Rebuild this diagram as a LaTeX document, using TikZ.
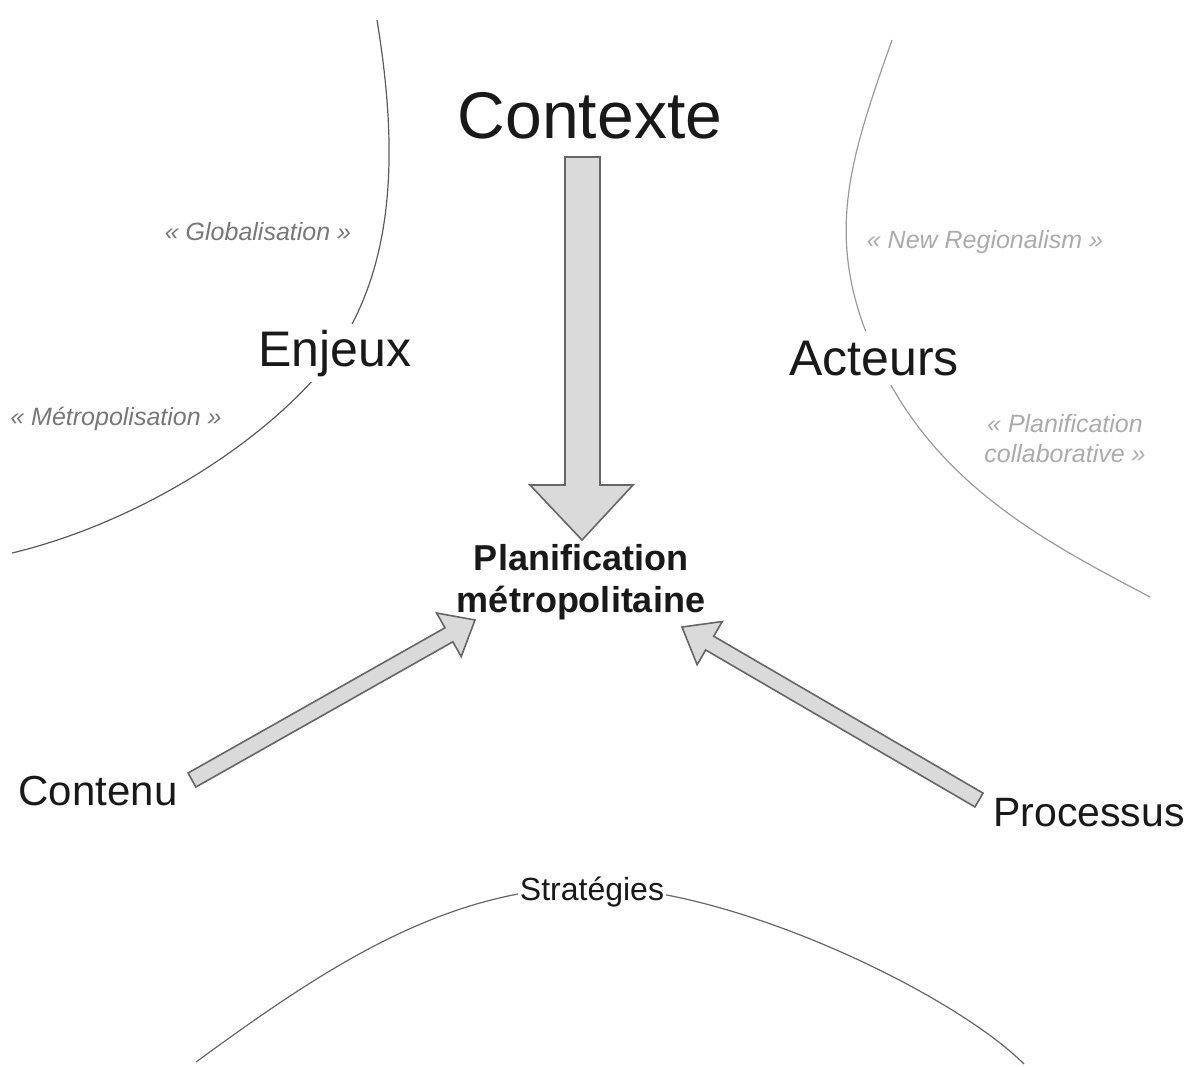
\documentclass[tikz,border=0pt]{standalone}
\usepackage{fontspec}
\setmainfont{Liberation Sans}
\definecolor{arrowfill}{HTML}{DADADA}
\definecolor{arrowline}{HTML}{666666}
\definecolor{curveL}{HTML}{5A5A5A}
\definecolor{curveR}{HTML}{9A9A9A}
\definecolor{curveB}{HTML}{666666}
\definecolor{quoteL}{HTML}{777777}
\definecolor{quoteR}{HTML}{ABABAB}
\begin{document}
\begin{tikzpicture}[x=0.5pt,y=-0.5pt,
  bigword/.style={font=\fontsize{25}{30}\selectfont, text=black!90, anchor=base, inner sep=3pt, fill=white},
  midword/.style={font=\fontsize{21}{25}\selectfont, text=black!90, anchor=base, inner sep=2pt},
  quote/.style={font=\fontsize{12.5}{15}\selectfont\itshape, align=center, inner sep=1pt},
  blockarrow/.style={fill=arrowfill, draw=arrowline, line width=0.8pt, line join=miter},
  curve/.style={line width=0.6pt}]
\useasboundingbox (0,0) rectangle (1193,1066);

% curves
\draw[curve, draw=curveL] (377,20) .. controls (398,149) and (400,284) .. (313,380)
  .. controls (246,454) and (129,525) .. (12,553);
\draw[curve, draw=curveR] (892,40) .. controls (849,162) and (822,240) .. (877,358)
  .. controls (936,485) and (1044,541) .. (1150,597);
\draw[curve, draw=curveB] (196,1062) .. controls (317.5,973.5) and (442,887) .. (592,887)
  .. controls (732,887) and (953,993) .. (1024,1064);

% block arrows
\draw[blockarrow] (565,157) -- (600,157) -- (600,485) -- (633,485) -- (582,540) -- (530,485) -- (565,485) -- cycle;
\draw[blockarrow] (195.9,787.0) -- (188.1,773.0) -- (445.0,627.8) -- (436.6,613.0) -- (475,620) -- (461.2,656.6) -- (452.8,641.8) -- cycle;
\draw[blockarrow] (983.0,793.1) -- (975.0,806.9) -- (705.7,650.0) -- (697.1,664.7) -- (682,627) -- (722.3,621.5) -- (713.7,636.2) -- cycle;

% texts
\node[font=\fontsize{33}{40}\selectfont, text=black!90, anchor=base] (contexte) at (590,138) {Contexte};
\node[bigword] (enjeux) at (335,366) {Enjeux};
\node[bigword, inner sep=5pt] (acteurs) at (874,375) {Acteurs};
\node[midword] (contenu) at (98,805) {Contenu};
\node[midword, font=\fontsize{20.5}{25}\selectfont] (processus) at (1089,826) {Processus};
\node[font=\fontsize{18}{21}\selectfont\bfseries, align=center, text=black!90] (plan) at (581,582) {Planification\\métropolitaine};
\node[font=\fontsize{16}{19}\selectfont, text=black!90, anchor=base, fill=white, inner sep=1pt] (strat) at (592,900) {Stratégies};

\node[quote, text=quoteL, anchor=base] (glob) at (258,240) {« Globalisation »};
\node[quote, text=quoteL, anchor=base] (metro) at (116,425) {« Métropolisation »};
\node[quote, text=quoteR, anchor=base] (newreg) at (985,248) {« New Regionalism »};
\node[quote, text=quoteR] (collab) at (1065,439) {« Planification\\collaborative »};
\end{tikzpicture}
\end{document}
